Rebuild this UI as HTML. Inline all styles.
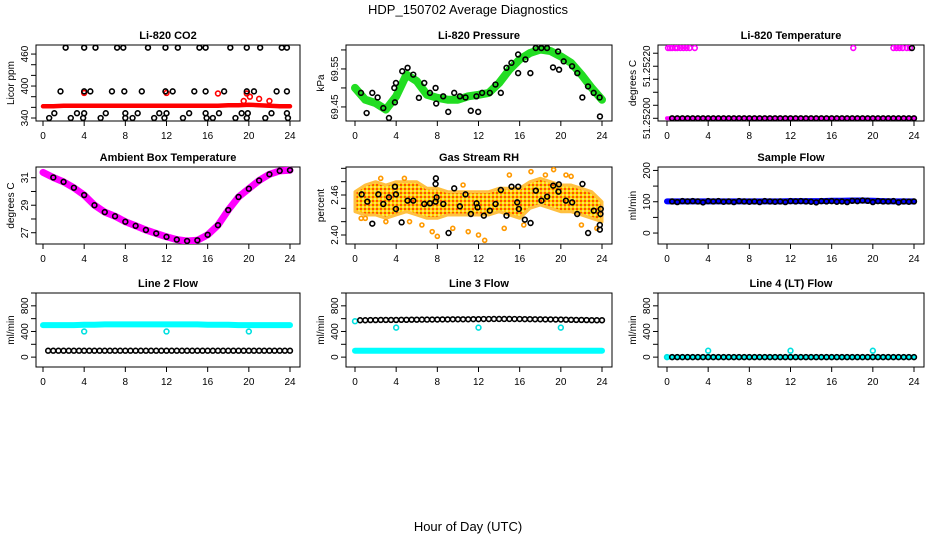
<!DOCTYPE html>
<html><head><meta charset="utf-8">
<style>
html,body{margin:0;padding:0;background:#fff;}
svg{display:block;font-family:"Liberation Sans",sans-serif;}
</style></head>
<body>
<svg id="chart" width="936" height="540" viewBox="0 0 936 540">
<text x="468" y="14" text-anchor="middle" font-size="13">HDP_150702  Average Diagnostics</text>
<text x="468" y="531" text-anchor="middle" font-size="13">Hour of Day (UTC)</text>
</svg>
<script>
// ---------- data ----------
const xTicks = [0,4,8,12,16,20,24];
const halfHours = [0.5,1,1.5,2,2.5,3,3.5,4,4.5,5,5.5,6,6.5,7,7.5,8,8.5,9,9.5,10,10.5,11,11.5,12,12.5,13,13.5,14,14.5,15,15.5,16,16.5,17,17.5,18,18.5,19,19.5,20,20.5,21,21.5,22,22.5,23,23.5,24];
const hours = [0,1,2,3,4,5,6,7,8,9,10,11,12,13,14,15,16,17,18,19,20,21,22,23,24];

// CO2
const co2RedBand = [362,362,363,363,363,363,363,363,363,363,363,363,363,363,363,363,363,363,364,364,365,364,363,362,362];
const co2RedOutHours = [4.0,12.0,17.0,19.8,20.1,21.0,22.0,19.5];
const co2RedOutVals = [387,387,386,386,380,376,372,372];
const co2BlackHours = [2.2,4.0,5.1,7.2,7.8,10.2,11.9,13.1,15.2,15.8,18.2,19.8,21.1,23.2,23.7,
 1.7,4.0,4.6,6.7,7.9,9.6,11.9,12.6,14.7,15.8,17.6,19.8,20.5,22.7,23.7,
 1.1,3.3,4.0,6.1,8.0,9.2,11.3,12.0,14.2,15.8,17.1,19.3,19.9,22.2,23.7,
 0.6,2.7,3.9,5.6,8.0,8.7,10.8,11.8,13.6,15.9,16.5,18.7,19.8,21.6,23.8];
const co2BlackVals = [472,472,472,472,472,472,472,472,472,472,472,472,472,472,472,
 390,390,390,390,390,390,390,390,390,390,390,390,390,390,390,
 349,349,349,349,349,349,349,349,349,349,349,349,349,349,349,
 340,340,340,340,340,340,340,340,340,340,340,340,340,340,340];

// Pressure
const presGreen = [69.500,69.469,69.460,69.443,69.478,69.535,69.518,69.482,69.474,69.469,69.469,69.478,69.482,69.487,69.513,69.548,69.575,69.592,69.601,69.597,69.583,69.566,69.535,69.500,69.469];
const presBlackHours = [0.58,1.13,1.68,2.2,2.75,3.3,3.82,3.88,3.98,4.59,5.11,5.66,6.21,6.73,7.28,7.83,7.89,8.57,9.06,9.64,10.19,10.74,11.25,11.8,11.97,12.35,13.1,13.65,14.17,14.72,15.2,15.85,15.85,16.56,17.04,17.56,18.11,18.66,19.24,19.73,19.83,20.28,21.09,21.6,22.09,22.64,23.19,23.77,23.8];
const presBlackVals = [69.487,69.434,69.487,69.475,69.447,69.421,69.500,69.462,69.513,69.544,69.553,69.535,69.474,69.513,69.487,69.500,69.459,69.478,69.437,69.487,69.478,69.475,69.440,69.478,69.437,69.487,69.487,69.509,69.487,69.553,69.566,69.588,69.539,69.575,69.539,69.605,69.605,69.605,69.554,69.596,69.548,69.570,69.557,69.539,69.475,69.504,69.487,69.475,69.425];

// Li-820 temperature
const tempBase = [51.252,51.252,51.252,51.252,51.252,51.252,51.252,51.252,51.252,51.252,51.252,51.252,51.252,51.252,51.252,51.252,51.252,51.252,51.252,51.252,51.252,51.252,51.252,51.252,51.252];
const tempBlackVals = [51.252,51.252,51.252,51.252,51.252,51.252,51.252,51.252,51.252,51.252,51.252,51.252,51.252,51.252,51.252,51.252,51.252,51.252,51.252,51.252,51.252,51.252,51.252,51.252,51.252,51.252,51.252,51.252,51.252,51.252,51.252,51.252,51.252,51.252,51.252,51.252,51.252,51.252,51.252,51.252,51.252,51.252,51.252,51.252,51.252,51.252,51.252,51.252];
const tempHighHours = [0.1,0.3,0.5,0.8,1.0,1.3,1.6,1.9,2.2,2.7,18.1,22.0,22.3,22.6,22.9,23.3,23.6];
const tempHighVals = [51.25227,51.25227,51.25227,51.25227,51.25227,51.25227,51.25227,51.25227,51.25227,51.25227,51.25227,51.25227,51.25227,51.25227,51.25227,51.25227,51.25227];
const tempBlackHighHours = [23.8];
const tempBlackHighVals = [51.25227];

// Ambient box temperature
const ambient = [31.39,31.02,30.7,30.27,29.74,29.0,28.5,28.2,27.8,27.5,27.2,26.95,26.7,26.5,26.4,26.45,26.85,27.55,28.65,29.6,30.2,30.8,31.25,31.5,31.55];

// Gas stream RH
const rhLow  = [2.435,2.43,2.43,2.425,2.43,2.435,2.43,2.425,2.425,2.43,2.43,2.43,2.43,2.43,2.435,2.43,2.425,2.44,2.445,2.44,2.435,2.435,2.43,2.425,2.42];
const rhHigh = [2.465,2.475,2.48,2.475,2.48,2.48,2.48,2.47,2.47,2.465,2.465,2.465,2.465,2.465,2.47,2.47,2.47,2.48,2.485,2.48,2.475,2.475,2.47,2.465,2.45];
const rhOrangeHours = [0.6,1.0,3.0,4.8,6.5,7.5,8.0,9.5,11.0,12.0,12.6,14.5,15.0,17.1,18.5,19.3,20.5,22.0,23.5,2.5,5.3,10.5,16.4,21.0];
const rhOrangeVals = [2.425,2.425,2.42,2.485,2.415,2.405,2.398,2.41,2.405,2.40,2.392,2.41,2.49,2.495,2.49,2.498,2.49,2.415,2.41,2.485,2.42,2.475,2.415,2.488];
const rhBlackHours = [0.65,1.2,1.68,2.27,2.75,3.3,3.88,3.98,3.98,4.53,5.11,5.66,6.73,7.28,7.83,7.83,7.86,7.93,8.58,9.09,9.64,10.19,10.74,11.26,11.81,11.91,12.52,13.1,13.66,14.17,14.72,15.21,15.76,15.86,15.92,16.5,17.06,17.57,18.12,18.67,19.26,19.77,19.81,20.49,21.1,21.59,22.1,22.65,23.2,23.79,23.85,23.88,23.79];
const rhBlackVals = [2.461,2.45,2.417,2.461,2.4465,2.4565,2.4725,2.461,2.439,2.419,2.4515,2.4515,2.4465,2.4475,2.45,2.4765,2.485,2.4565,2.4465,2.403,2.47,2.443,2.461,2.4315,2.4475,2.4415,2.429,2.4365,2.4465,2.4675,2.429,2.4725,2.449,2.4725,2.439,2.423,2.418,2.4665,2.4515,2.4575,2.474,2.465,2.476,2.4515,2.449,2.4315,2.4765,2.403,2.4365,2.415,2.4315,2.439,2.408];

// Sample flow
const sampleBlue = [101,101,101,101,101,101,101,101,101,101,101,101,102,102,102,102,103,103,104,104,103,102,101,101,101];
const sampleBlack = [101,99,102,101,102,101,98,102,101,102,100,101,99,102,101,100,101,99,102,101,100,101,99,102,101,102,101,100,98,102,101,102,100,101,99,103,102,104,103,99,102,101,101,102,98,101,100,101];

// Line 2 flow
const l2Cyan = [500,500,500,500,505,505,510,510,510,510,510,510,510,510,510,510,505,505,505,500,500,500,500,500,500];
const l2CyanOutHours = [4.0,12.0,20.0];
const l2CyanOutVals = [400,400,400];
const l2Black = [100,100,100,100,100,100,100,100,100,100,100,100,100,100,100,100,100,100,100,100,100,100,100,100,100,100,100,100,100,100,100,100,100,100,100,100,100,100,100,100,100,100,100,100,100,100,100,100];

// Line 3 flow
const l3Cyan = [100,100,100,100,100,100,100,100,100,100,100,100,100,100,100,100,100,100,100,100,100,100,100,100,100];
const l3CyanOutHours = [0.0,4.0,12.0,20.0];
const l3CyanOutVals = [560,460,460,460];
const l3Black = [575,575,578,578,580,580,580,580,582,582,584,584,585,585,586,586,588,588,590,590,590,590,592,592,594,594,595,595,595,595,594,594,592,592,590,590,588,588,586,586,584,582,580,580,578,576,575,575];

// Line 4 flow
const l4Cyan = [0,0,0,0,0,0,0,0,0,0,0,0,0,0,0,0,0,0,0,0,0,0,0,0,0];
const l4CyanOutHours = [0.0,4.0,12.0,20.0];
const l4CyanOutVals = [0,100,100,100];
const l4Black = [0,0,0,0,0,0,0,0,0,0,0,0,0,0,0,0,0,0,0,0,0,0,0,0,0,0,0,0,0,0,0,0,0,0,0,0,0,0,0,0,0,0,0,0,0,0,0,0];

// ---------- drawing ----------
const NS = 'http://www.w3.org/2000/svg';
const svg = document.getElementById('chart');
const defs = document.createElementNS(NS,'defs');
defs.innerHTML = '<pattern id="rhpat" width="4" height="4" patternUnits="userSpaceOnUse"><rect width="4" height="4" fill="#ffd000"/><rect width="2" height="2" fill="#ff5000"/><rect x="2" y="2" width="2" height="2" fill="#ffe060"/></pattern>';
svg.appendChild(defs);

function mk(tag, attrs, parent){
  const e = document.createElementNS(NS, tag);
  for (const k in attrs) e.setAttribute(k, attrs[k]);
  (parent||svg).appendChild(e);
  return e;
}

const colX = [[36,300,43,290],[346,612,355,602],[658,924,667,914]];
const rowY = [[45,121],[167,244],[293,367]];

function panel(col,row,title,ylab,ymin,ymax,yTicks,yLabels,name){
  const [bx0,bx1,ax0,ax1] = colX[col];
  const [by0,by1] = rowY[row];
  const g = mk('g',{});
  
  
  const P = {
    g,
    x: h => ax0 + h*(ax1-ax0)/24,
    y: v => by1 - (v-ymin)/(ymax-ymin)*(by1-by0)
  };
  const t = mk('text',{x:(bx0+bx1)/2,y:by0-6,'text-anchor':'middle','font-size':11,'font-weight':'bold'},g);
  t.textContent = title;
  
  
  const r = mk('rect',{x:bx0,y:by0,width:bx1-bx0,height:by1-by0,fill:'none',stroke:'#000','stroke-width':1},g);
  
  
  xTicks.forEach(v=>{
    const xx = P.x(v);
    mk('line',{x1:xx,x2:xx,y1:by1,y2:by1+5,stroke:'#000'},g);
    const tl = mk('text',{x:xx,y:by1+18,'text-anchor':'middle','font-size':10},g);
    tl.textContent = v;
    
    
  });
  yTicks.forEach(v=>{
    const yy = P.y(v);
    mk('line',{x1:bx0-5,x2:bx0,y1:yy,y2:yy,stroke:'#000'},g);
  });
  yLabels.forEach(v=>{
    const yy = P.y(v[0]);
    const tl = mk('text',{x:0,y:0,'text-anchor':'middle','font-size':10,transform:`translate(${bx0-8},${yy}) rotate(-90)`},g);
    tl.textContent = v[1];
    
    
  });
  const yl = mk('text',{x:0,y:0,'text-anchor':'middle','font-size':10,transform:`translate(${bx0-22},${(by0+by1)/2}) rotate(-90)`},g);
  yl.textContent = ylab;
  
  
  const clip = mk('clipPath',{id:'clip-'+name},defs);
  mk('rect',{x:bx0,y:by0-3,width:bx1-bx0,height:by1-by0+3},clip);
  P.layer = mk('g',{'clip-path':`url(#clip-${name})`},g);
  return P;
}

function band(P, xs, vals, color, w, name){
  const pts = xs.map((h,i)=>P.x(h).toFixed(1)+','+P.y(vals[i]).toFixed(1)).join(' ');
  const l = mk('polyline',{points:pts,fill:'none',stroke:color,'stroke-width':w,'stroke-linecap':'round','stroke-linejoin':'round'},P.layer);
  
  
}
function points(P, xs, vals, color, name, r){
  xs.forEach((h,i)=>{
    const c = mk('circle',{cx:P.x(h),cy:P.y(vals[i]),r:r||2.4,fill:'none',stroke:color,'stroke-width':1.6},P.layer);
    
    
  });
}
function range(P, xs, lo, hi, fill, name){
  const top = xs.map((h,i)=>P.x(h).toFixed(1)+','+P.y(hi[i]).toFixed(1));
  const bot = xs.map((h,i)=>P.x(h).toFixed(1)+','+P.y(lo[i]).toFixed(1)).reverse();
  const p = mk('polygon',{points:top.concat(bot).join(' '),fill:fill,stroke:'#ffc040','stroke-width':3,'stroke-linejoin':'round'},P.layer);
  
  
}

let P = panel(0,0,'Li-820 CO2','Licor ppm',334.4,477,[340,360,380,400,420,440,460],[[340,'340'],[400,'400'],[460,'460']],'co2');
band(P,hours,co2RedBand,'#ff0000',4.5,'co2-red-band');
points(P,co2RedOutHours,co2RedOutVals,'#ff0000','co2-red-point');
points(P,co2BlackHours,co2BlackVals,'#000','co2-black-point');

P = panel(1,0,'Li-820 Pressure','kPa',69.413,69.613,[69.45,69.5,69.55,69.6],[[69.45,'69.45'],[69.55,'69.55']],'pressure');
band(P,hours,presGreen,'#22dd22',8,'pressure-green-band');
points(P,presBlackHours,presBlackVals,'#000','pressure-black-point');

P = panel(2,0,'Li-820 Temperature','degrees C',51.2519896,51.2522816,[51.252,51.25205,51.2521,51.25215,51.2522,51.25225],[[51.252,'51.25200'],[51.2522,'51.25220']],'li820-temp');
band(P,hours,tempBase,'#ff00ff',4,'li820-temp-magenta-band');
points(P,halfHours,tempBlackVals,'#000','li820-temp-black-point');
points(P,tempHighHours,tempHighVals,'#ff00ff','li820-temp-magenta-point');
points(P,tempBlackHighHours,tempBlackHighVals,'#000','li820-temp-black-point');

P = panel(0,1,'Ambient Box Temperature','degrees C',26.18,31.78,[27,28,29,30,31],[[27,'27'],[29,'29'],[31,'31']],'ambient');
band(P,hours,ambient,'#ff00ff',7,'ambient-magenta-band');
points(P,hours.slice(1),ambient.slice(1),'#000','ambient-black-point');

P = panel(1,1,'Gas Stream RH','percent',2.3865,2.502,[2.40,2.42,2.44,2.46,2.48,2.50],[[2.40,'2.40'],[2.46,'2.46']],'rh');
range(P,hours,rhLow,rhHigh,'url(#rhpat)','rh-orange-cloud');
points(P,rhOrangeHours,rhOrangeVals,'#ff9900','rh-orange-point',2);
points(P,rhBlackHours,rhBlackVals,'#000','rh-black-point');

P = panel(2,1,'Sample Flow','ml/min',-35,211,[0,50,100,150,200],[[0,'0'],[100,'100'],[200,'200']],'sample-flow');
band(P,hours,sampleBlue,'#0000ff',6,'sample-flow-blue-band');
points(P,halfHours,sampleBlack,'#000','sample-flow-black-point');

P = panel(0,2,'Line 2 Flow','ml/min',-154,1000,[0,200,400,600,800,1000],[[0,'0'],[400,'400'],[800,'800']],'line2');
band(P,hours,l2Cyan,'#00ffff',6,'line2-cyan-band');
points(P,l2CyanOutHours,l2CyanOutVals,'#00e0e0','line2-cyan-point');
points(P,halfHours,l2Black,'#000','line2-black-point');

P = panel(1,2,'Line 3 Flow','ml/min',-154,1000,[0,200,400,600,800,1000],[[0,'0'],[400,'400'],[800,'800']],'line3');
band(P,hours,l3Cyan,'#00ffff',6,'line3-cyan-band');
points(P,l3CyanOutHours,l3CyanOutVals,'#00e0e0','line3-cyan-point');
points(P,halfHours,l3Black,'#000','line3-black-point');

P = panel(2,2,'Line 4 (LT) Flow','ml/min',-154,1000,[0,200,400,600,800,1000],[[0,'0'],[400,'400'],[800,'800']],'line4');
band(P,hours,l4Cyan,'#00ffff',5,'line4-cyan-band');
points(P,l4CyanOutHours,l4CyanOutVals,'#00e0e0','line4-cyan-point');
points(P,halfHours,l4Black,'#000','line4-black-point');
</script>
</body></html>
